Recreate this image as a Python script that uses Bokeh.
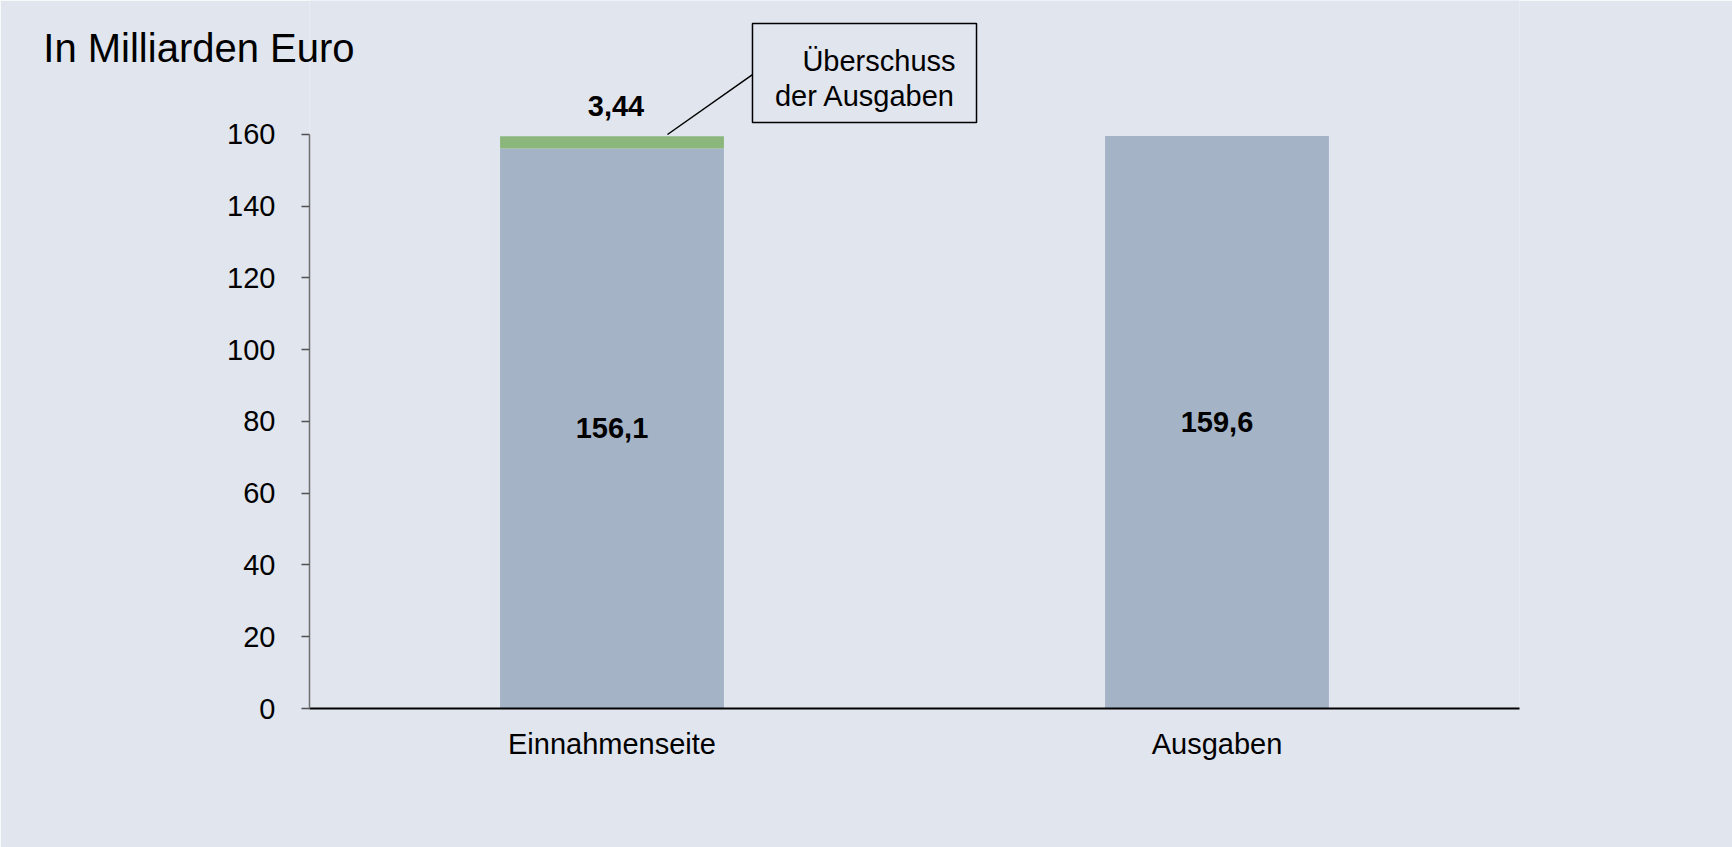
from bokeh.plotting import figure
from bokeh.models import FactorRange, Range1d, ColumnDataSource, FixedTicker
from bokeh.core.properties import value
from bokeh.embed import file_html
from bokeh.resources import INLINE

# ---- data ----
categories = ["Einnahmenseite", "Ausgaben"]
base_values = [156.1, 159.6]
surplus_values = [3.44, 0.0]
base_labels = ["156,1", "159,6"]
surplus_label = "3,44"
y_ticks = [0, 20, 40, 60, 80, 100, 120, 140, 160]
title_text = "In Milliarden Euro"
callout_lines = ["Überschuss", "der Ausgaben"]

# ---- style ----
BG = "#E0E5EE"
BAR = "#A5B3C7"
GREEN = "#8BB77C"
FONT = "Liberation Sans"
W, H = 1732, 847

p = figure(x_range=FactorRange(*categories, range_padding=0),
           y_range=Range1d(0, 197.35),
           width=W, height=H, title=None,
           output_backend="svg", toolbar_location=None,
           min_border_left=309, min_border_right=213,
           min_border_top=0, min_border_bottom=139)
p.background_fill_color = BG
p.border_fill_color = BG
p.outline_line_color = None
p.xgrid.grid_line_color = None
p.ygrid.grid_line_color = None

src = ColumnDataSource(dict(cat=categories, base=base_values, surplus=surplus_values))
p.vbar_stack(["base", "surplus"], x="cat", width=0.37, source=src,
             fill_color=[BAR, GREEN], line_color=None)

# value labels inside bars
p.text(x=categories, y=[v / 2 for v in base_values], text=base_labels,
       text_align="center", text_baseline="middle",
       text_font=value(FONT), text_font_style="bold", text_font_size="29px",
       text_color="black")

# surplus label above stack
p.text(x=[categories[0]], y=[base_values[0] + surplus_values[0]], text=[surplus_label],
       text_align="center", text_baseline="middle", x_offset=4, y_offset=-30,
       text_font=value(FONT), text_font_style="bold", text_font_size="29px",
       text_color="black")

# callout: leader line, box and text
p.segment(x0=[0.5917], y0=[160.0], x1=[0.7322], y1=[176.7], line_color="black", line_width=1.5)
p.quad(left=[0.7322], right=[1.1025], top=[190.94], bottom=[163.35],
       fill_color=None, line_color="black", line_width=1.5)
p.text(x=[1.0678, 1.0678], y=[180.46, 170.7], text=callout_lines,
       text_align="right", text_baseline="middle",
       text_font=value(FONT), text_font_size="29px", text_color="black")

# title (drawn unclipped at overlay level, left of the plot frame)
p.text(x=[-0.440], y=[184.0], text=[title_text], level="overlay",
       text_align="left", text_baseline="middle",
       text_font=value(FONT), text_font_size="40px", text_color="black")

# y axis
yax = p.yaxis[0]
yax.ticker = FixedTicker(ticks=y_ticks)
yax.bounds = (0, 160)
yax.axis_line_color = "#707070"
yax.axis_line_width = 1.5
yax.major_tick_line_color = "#505050"
yax.major_tick_line_width = 1.5
yax.major_tick_out = 8
yax.major_tick_in = 0
yax.minor_tick_line_color = None
yax.major_label_text_font = FONT
yax.major_label_text_font_size = "29px"
yax.major_label_text_color = "black"
yax.major_label_standoff = 26

# x axis
xax = p.xaxis[0]
xax.axis_line_color = "black"
xax.axis_line_width = 2
xax.major_tick_line_color = None
xax.major_tick_out = 0
xax.major_tick_in = 0
xax.minor_tick_line_color = None
xax.major_label_text_font = FONT
xax.major_label_text_font_size = "29px"
xax.major_label_text_color = "black"
xax.major_label_standoff = 19

open("out.html", "w").write(file_html(p, INLINE))
